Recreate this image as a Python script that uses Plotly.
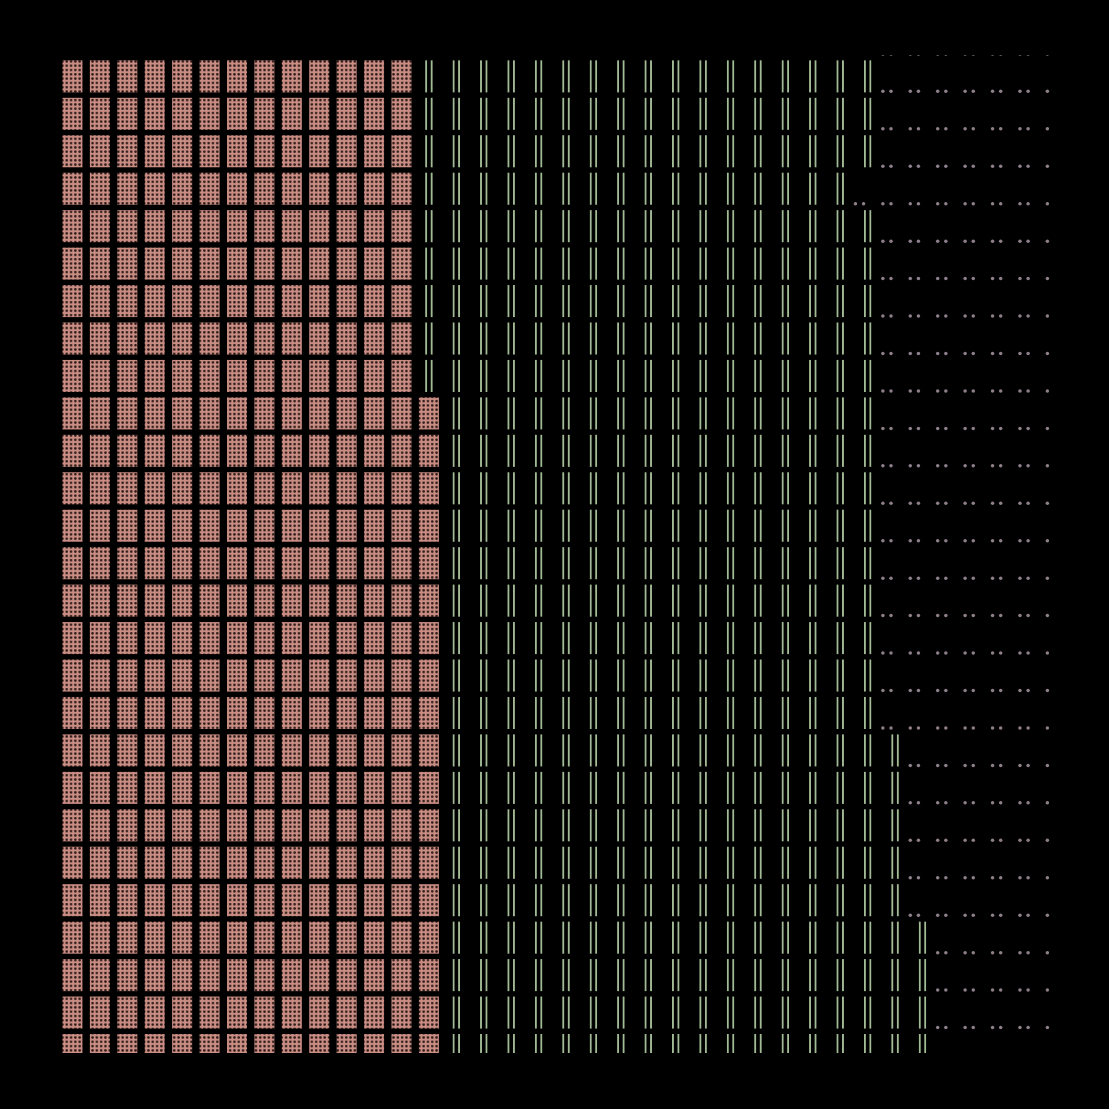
import plotly.graph_objects as go

# ---------------- data ----------------
# Waffle-style grid: 37 columns x 28 rows (row -1 and column 36 are only partly visible)
col_ids = list(range(37))
row_ids = list(range(-1, 27))

# coral block: first / last row per column (None = no coral cells in that column)
coral_first_row = [-1] * 13 + [9] + [None] * 23
coral_last_row = [26] * 13 + [26] + [None] * 23

# green block: first / last row per column
green_first_row = [None] * 13 + [-1] + [-1] * 15 + [-1] + [18, 23] + [None] * 5
green_last_row = [None] * 13 + [8] + [26] * 15 + [26] + [26, 26] + [None] * 5

# cells inside the green span that are empty (grey)
green_holes = [(29, 3)]

# ---------------- styling ----------------
W = H = 1109
M_L, M_R, M_T, M_B = 56, 56, 55, 56
X_RANGE = [-0.6, 35.76]
Y_RANGE = [26.08, -0.571]
BG = "#000000"
CORAL = "#c98d83"
CORAL_DOT = "#2a1816"
GREEN = "#a3bd97"
GREY = "#8f7f8a"

plot_w = W - M_L - M_R
pitch_x = plot_w / (X_RANGE[1] - X_RANGE[0])
CELL_H = 0.856

# ---------------- build cells ----------------
cat = {}
for c in col_ids:
    for r in row_ids:
        cat[(c, r)] = "empty"
    if coral_first_row[c] is not None:
        for r in range(coral_first_row[c], coral_last_row[c] + 1):
            cat[(c, r)] = "coral"
    if green_first_row[c] is not None:
        for r in range(green_first_row[c], green_last_row[c] + 1):
            cat[(c, r)] = "green"
for c, r in green_holes:
    cat[(c, r)] = "empty"

coral_x, coral_base = [], []
green_x, green_base = [], []
empty_x, empty_y = [], []
for (c, r), k in cat.items():
    if k == "coral":
        coral_x.append(c)
        coral_base.append(r - CELL_H / 2)
    elif k == "green":
        green_x.append(c)
        green_base.append(r - CELL_H / 2)
    else:
        for dx in (-0.445, -0.148):
            empty_x.append(c + dx)
            empty_y.append(r + 0.40)

fig = go.Figure()
fig.add_trace(go.Bar(
    x=coral_x, y=[CELL_H] * len(coral_x), base=coral_base, width=0.73,
    marker=dict(color=CORAL, line=dict(width=0),
                pattern=dict(shape=".", fgcolor=CORAL_DOT, bgcolor=CORAL,
                             size=4.3, solidity=0.28, fillmode="replace")),
    hoverinfo="skip", showlegend=False,
))
fig.add_trace(go.Bar(
    x=green_x, y=[CELL_H] * len(green_x), base=green_base, width=0.3,
    marker=dict(color=BG, line=dict(width=0),
                pattern=dict(shape="|", fgcolor=GREEN, bgcolor=BG,
                             size=pitch_x / 5, solidity=0.33, fillmode="replace")),
    hoverinfo="skip", showlegend=False,
))
fig.add_trace(go.Scatter(
    x=empty_x, y=empty_y, mode="markers",
    marker=dict(size=3.5, color=GREY, line=dict(width=0)),
    hoverinfo="skip", showlegend=False,
))

fig.update_layout(
    width=W, height=H,
    margin=dict(l=M_L, r=M_R, t=M_T, b=M_B, pad=0),
    paper_bgcolor=BG, plot_bgcolor=BG,
    barmode="overlay",
    xaxis=dict(range=X_RANGE, showgrid=False, zeroline=False, showticklabels=False,
               showline=False, ticks=""),
    yaxis=dict(range=Y_RANGE, showgrid=False, zeroline=False, showticklabels=False,
               showline=False, ticks=""),
)

page_js = (
    "document.documentElement.style.background='#000';"
    "document.body.style.margin='0';"
    "document.body.style.padding='0';"
    "document.body.style.background='#000';"
)

fig.write_html("out.html", post_script=page_js, config={"displayModeBar": False})
